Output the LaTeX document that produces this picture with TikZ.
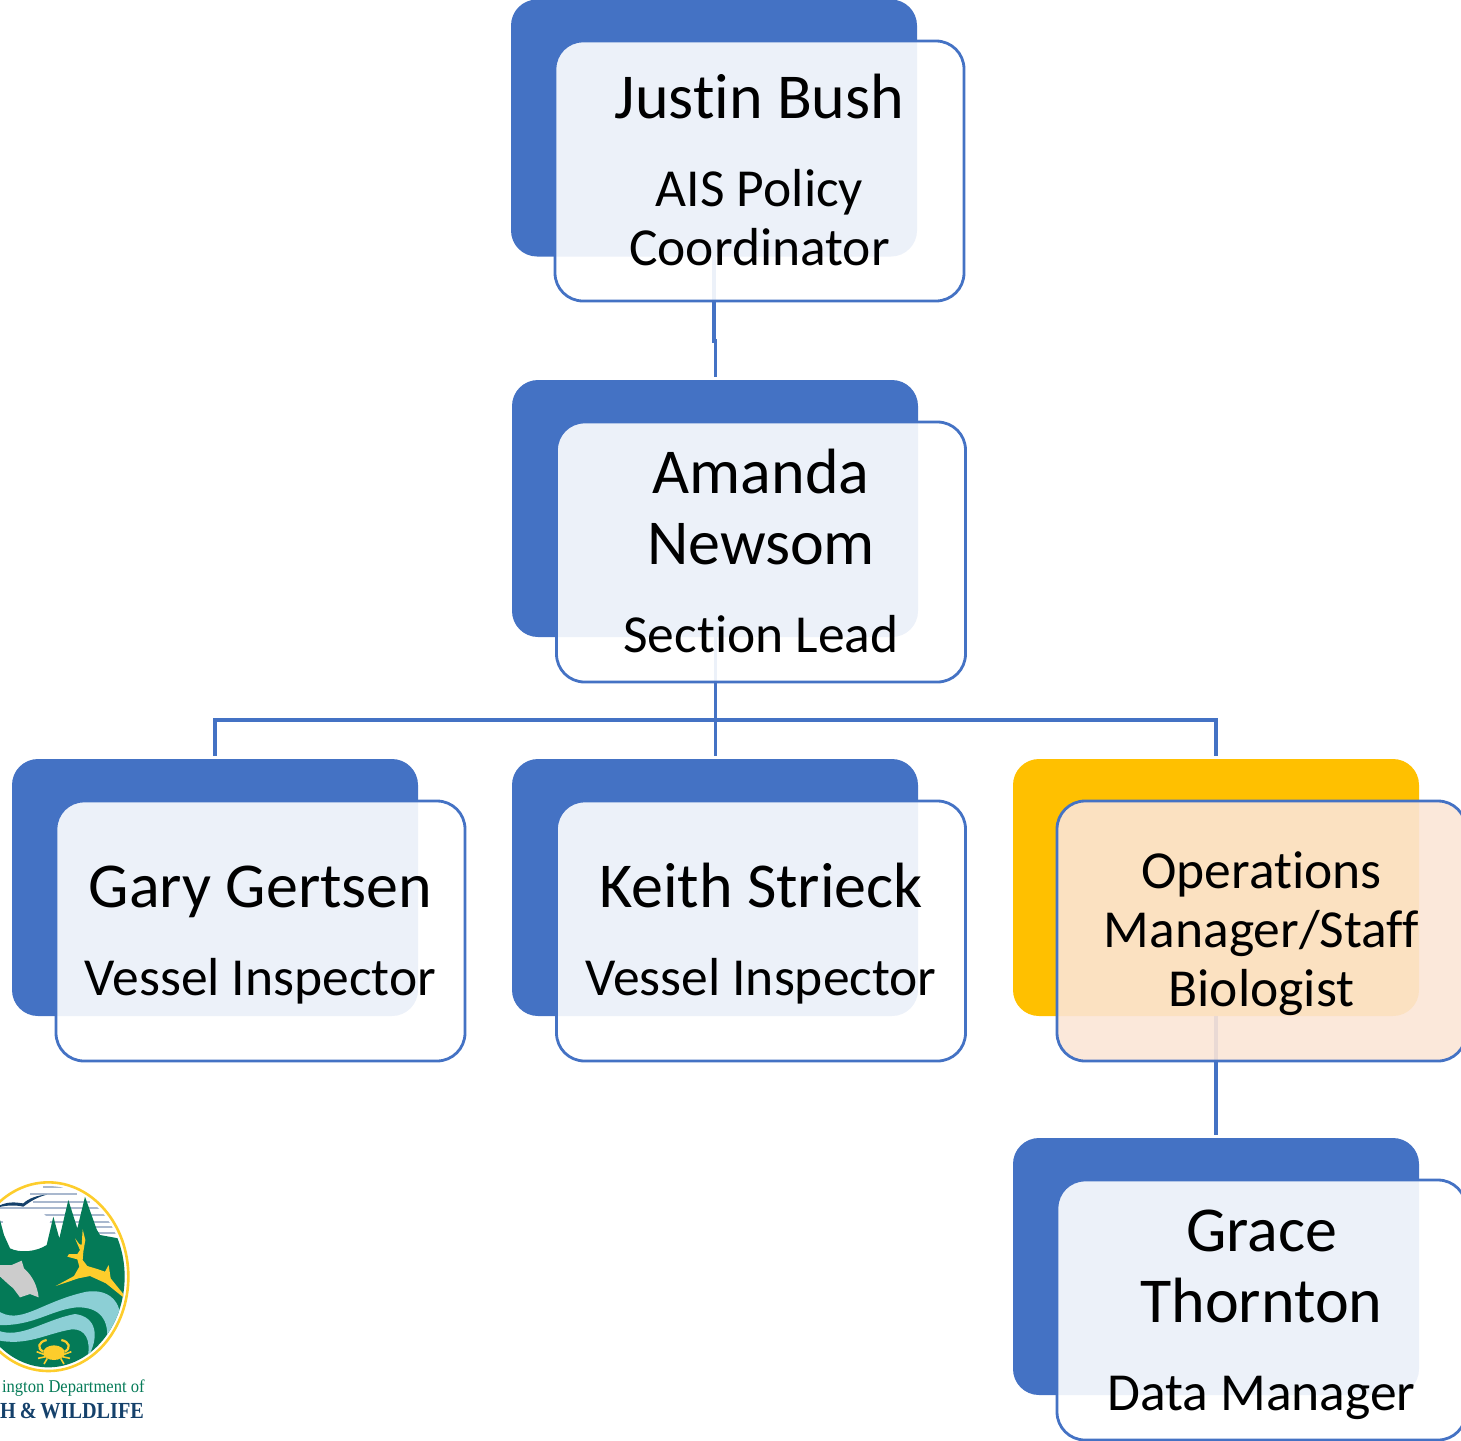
\documentclass[tikz,border=0pt]{standalone}
\usepackage{fontspec}
\setmainfont[Ligatures=NoCommon]{Carlito}
\newfontfamily\crestserif[FakeStretch=0.92]{Liberation Serif}
\newfontfamily\crestbold[FakeStretch=0.88]{Liberation Serif}
\definecolor{orgblue}{HTML}{4472C4}
\definecolor{orgamber}{HTML}{FFC000}
\definecolor{orgpeach}{HTML}{FBE5D6}
\definecolor{crestgreen}{HTML}{047A57}
\definecolor{crestteal}{HTML}{8CCFD5}
\definecolor{crestgold}{HTML}{FDCD2C}
\definecolor{crestnavy}{HTML}{15416B}
\definecolor{crestsky}{HTML}{A9B8CE}
\newcommand{\namesize}{\fontsize{32}{35.5}\selectfont}
\newcommand{\rolesize}{\fontsize{26.75}{29.5}\selectfont\lineskiplimit=-100pt}
\newcommand{\firstrule}{\rule{0pt}{25.5pt}}
\newcommand{\lastrule}{\rule[-5pt]{0pt}{5pt}}
\tikzset{
  backbox/.style={rectangle, rounded corners=13pt, fill=orgblue, minimum width=203pt, minimum height=128.5pt, inner sep=0pt},
  frontbox/.style={rectangle, rounded corners=14pt, draw=orgblue, line width=1.4pt, fill=white, fill opacity=0.9, text opacity=1, minimum width=204.5pt, minimum height=130pt, inner sep=0pt, align=center, font=\rolesize},
  orgline/.style={draw=orgblue, line width=1.6pt},
}
\begin{document}
\begin{tikzpicture}[x=0.5pt,y=-0.5pt]
  \useasboundingbox (0,0) rectangle (1461,1440);
  \clip (0,0) rectangle (1461,1440);
  % back boxes
  \node[backbox] (justinback) at (714,128) {};
  \node[backbox] (amandaback) at (715,508.5) {};
  \node[backbox] (garyback) at (215,887.5) {};
  \node[backbox] (keithback) at (715,887.5) {};
  \node[backbox, fill=orgamber] (opsback) at (1216,887.5) {};
  \node[backbox] (graceback) at (1216,1266.5) {};
  % connectors
  \coordinate (justinjog) at (714,341);
  \coordinate (amandatop) at (715.5,377);
  \coordinate (garytop) at (215,756);
  \coordinate (keithtop) at (715.5,756);
  \coordinate (opstop) at (1216,756);
  \coordinate (gracetop) at (1216,1135);
  \coordinate (crossbar) at (715.5,720);
  \draw[orgline] (justinback.south) -- (justinjog) -| (amandatop);
  \draw[orgline] (amandaback.south -| keithtop) -- (keithtop);
  \draw[orgline] (garytop) |- (crossbar) -| (opstop);
  \draw[orgline] (opsback.south) -- (gracetop);
  % front boxes
  \node[frontbox] (justin) at (759.5,171) {{\namesize\firstrule Justin Bush}\\[14.5pt]AIS Policy\\Coordinator\lastrule};
  \node[frontbox] (amanda) at (761,552) {{\namesize\firstrule Amanda}\\[6pt]{\namesize Newsom}\\[14.5pt]Section Lead\lastrule};
  \node[frontbox] (gary) at (260.5,931) {{\namesize\firstrule Gary Gertsen}\\[14.5pt]Vessel Inspector\lastrule};
  \node[frontbox] (keith) at (761,931) {{\namesize\firstrule Keith Strieck}\\[14.5pt]Vessel Inspector\lastrule};
  \node[frontbox, fill=orgpeach] (ops) at (1261.5,931) {\rule{0pt}{21pt}Operations\\Manager/Staff\\Biologist\lastrule};
  \node[frontbox] (grace) at (1261.5,1310) {{\namesize\firstrule Grace}\\[6pt]{\namesize Thornton}\\[14.5pt]Data Manager\lastrule};
  % crest, drawn in 3x crop units
  \begin{scope}[shift={(0pt,-585pt)}, x=0.16667pt, y=-0.16667pt]
    \draw[crestgold, line width=1.3pt] (145,320) ellipse [x radius=240, y radius=283];
    \begin{scope}
      \clip (145,320) ellipse [x radius=229, y radius=272];
      % sky stripes
      \foreach \stripey/\stripel/\striper in {50/130/190, 72/90/230, 95/100/270, 115/-50/300, 135/130/320, 155/-50/340, 172/240/360, 190/280/370}
        \draw[crestsky, line width=0.9pt] (\stripel,\stripey) -- (\striper,\stripey);
      \fill[white] (5,125) -- (125,125) -- (150,150) -- (140,240) -- (20,240) -- cycle;
      % ground and trees
      \fill[crestgreen] (-100,600) -- (-100,150) -- (0,150) -- (12,195) -- (30,235) .. controls (60,250) and (110,245) .. (140,225) -- (160,140) -- (178,205) -- (205,90) -- (232,175) -- (255,80) -- (290,178) -- (300,195) -- (355,205) -- (400,300) -- (400,600) -- cycle;
      % waves
      \fill[crestteal] (-10,420) .. controls (60,470) and (120,395) .. (260,365) .. controls (330,355) and (365,400) .. (360,450) -- (320,520) .. controls (330,450) and (300,410) .. (230,412) .. controls (150,420) and (100,470) .. (-10,465) -- cycle;
      \fill[crestteal] (-10,480) .. controls (60,510) and (130,450) .. (225,432) .. controls (290,440) and (300,500) .. (262,565) .. controls (275,510) and (255,475) .. (215,478) .. controls (140,490) and (80,530) .. (-10,510) -- cycle;
    \end{scope}
    % bird
    \fill[crestnavy] (-5,108) .. controls (30,90) and (60,100) .. (70,100) .. controls (85,85) and (115,75) .. (140,74) .. controls (110,82) and (90,95) .. (70,110) .. controls (50,105) and (20,105) .. (-5,112) -- cycle;
    % fish
    \fill[black!20] (-5,285) -- (35,285) -- (65,272) -- (72,295) .. controls (100,320) and (112,350) .. (116,382) -- (90,372) -- (60,382) -- (40,355) -- (28,345) -- (-5,315) -- cycle;
    % deer
    \fill[crestgold] (167,348) -- (222,318) -- (238,290) -- (232,268) -- (202,260) -- (207,252) -- (232,252) -- (240,240) -- (225,205) -- (238,222) -- (245,225) -- (248,178) -- (256,210) -- (250,245) -- (248,270) -- (262,288) -- (295,298) -- (315,305) -- (326,285) -- (332,325) -- (370,372) -- (370,382) -- (318,340) -- (270,318) -- (235,325) -- cycle;
    % crab
    \fill[crestgold] (162,548) ellipse [x radius=32, y radius=22];
    \draw[crestgold, line width=1.1pt] (130,545) .. controls (110,535) and (115,515) .. (140,510);
    \draw[crestgold, line width=1.1pt] (194,545) .. controls (214,535) and (209,515) .. (184,510);
    \foreach \crabsign in {-1,1} {
      \draw[crestgold, line width=0.8pt] (162+\crabsign*25,555) -- (162+\crabsign*52,545);
      \draw[crestgold, line width=0.8pt] (162+\crabsign*25,560) -- (162+\crabsign*48,565);
      \draw[crestgold, line width=0.8pt] (162+\crabsign*20,565) -- (162+\crabsign*30,582);
    }
    % crest lettering
    \node[anchor=east, inner sep=0pt, text=crestgreen, font=\crestserif\fontsize{9}{10}\selectfont] (crestdept) at (435,655) {ington Department of};
    \node[anchor=east, inner sep=0pt, text=crestnavy, font=\crestbold\bfseries\fontsize{11.5}{14}\selectfont] (crestname) at (433,722) {H\,\&\,WILDLIFE};
  \end{scope}
\end{tikzpicture}
\end{document}
